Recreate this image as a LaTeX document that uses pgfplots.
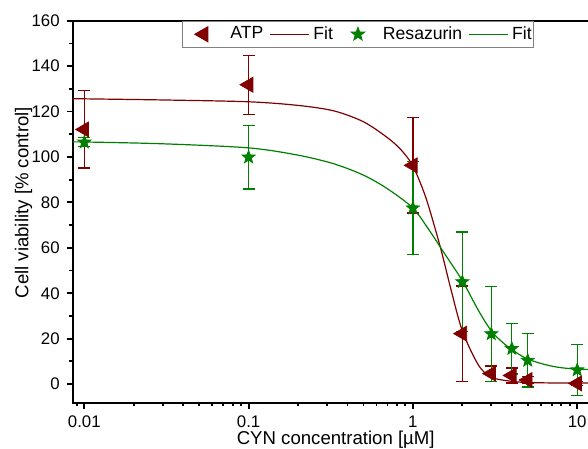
\documentclass[border=0pt]{standalone}
\usepackage{fontspec}
\setmainfont{Liberation Sans}
\usepackage{pgfplots}
\pgfplotsset{compat=1.18}
\definecolor{atp}{RGB}{128,0,0}
\definecolor{res}{RGB}{0,128,0}

% filled five-pointed star
\pgfdeclareplotmark{fstar}{%
  \pgfpathmoveto{\pgfpointpolar{90}{\pgfplotmarksize}}%
  \pgfpathlineto{\pgfpointpolar{126}{0.42\pgfplotmarksize}}%
  \pgfpathlineto{\pgfpointpolar{162}{\pgfplotmarksize}}%
  \pgfpathlineto{\pgfpointpolar{198}{0.42\pgfplotmarksize}}%
  \pgfpathlineto{\pgfpointpolar{234}{\pgfplotmarksize}}%
  \pgfpathlineto{\pgfpointpolar{270}{0.42\pgfplotmarksize}}%
  \pgfpathlineto{\pgfpointpolar{306}{\pgfplotmarksize}}%
  \pgfpathlineto{\pgfpointpolar{342}{0.42\pgfplotmarksize}}%
  \pgfpathlineto{\pgfpointpolar{18}{\pgfplotmarksize}}%
  \pgfpathlineto{\pgfpointpolar{54}{0.42\pgfplotmarksize}}%
  \pgfpathclose
  \pgfusepathqfillstroke
}

% legend images with the spacing of the original
\pgfplotsset{
  fitline/.style={legend image code/.code={%
    \path[draw=none] (0pt,0pt) -- (25pt,0pt);
    \draw[##1] (3.2pt,0pt) -- (23pt,0pt);}},
  firstmark/.style={legend image code/.code={%
    \path[draw=none] (0pt,0pt) -- (23pt,0pt);
    \path[##1, draw=none] plot[only marks] coordinates {(9.5pt,0pt)};}},
  nextmark/.style={legend image code/.code={%
    \path[draw=none] (0pt,0pt) -- (25pt,0pt);
    \path[##1, draw=none] plot[only marks] coordinates {(12.5pt,0pt)};}},
}

\begin{document}
\begin{tikzpicture}
\begin{axis}[
  scale only axis,
  width=276.98pt, height=191pt,
  xmode=log, log ticks with fixed point,
  xmin=0.0085, xmax=20,
  ymin=-8.2, ymax=160,
  ytick={0,20,...,160},
  minor y tick num=1,
  tick align=outside,
  xtick pos=left, ytick pos=left,
  major tick length=3pt, minor tick length=1.6pt,
  tick style={black, line width=0.9pt},
  axis line style={line width=1pt},
  /pgf/number format/assume math mode=true,
  tick label style={font=\fontsize{8.4}{10}\selectfont},
  label style={font=\fontsize{9.3}{11}\selectfont},
  xlabel={CYN concentration [µM]},
  ylabel={Cell viability [\% control]},
  xlabel style={at={(axis description cs:0.4748,0)}, anchor=center, yshift=-18.4pt},
  ylabel style={at={(axis description cs:0,0.5)}, anchor=center, yshift=24.6pt, xshift=4.5pt},
  legend columns=4,
  legend style={at={(0.1973,1)}, anchor=north west, draw=gray, line width=0.5pt,
    font=\fontsize{8.8}{10.5}\selectfont, inner xsep=1pt, inner ysep=2.6pt,
    nodes={inner sep=0pt},
    /tikz/every even column/.append style={column sep=0pt}},
]

% fitted curves
\addplot[atp, line width=0.6pt, smooth, forget plot] coordinates {
  (0.0085,125.7) (0.01,125.6) (0.03,125.1) (0.1,124.3) (0.2,122.7) (0.33,120.3)
  (0.5,115.5) (0.7,108.5) (0.85,103) (1,96) (1.2,82) (1.47,60.2) (1.7,42)
  (2,23.4) (2.5,8.5) (3,3) (4,1.2) (5,0.7) (7,0.5) (10,0.5) (20,0.5)
};
\addplot[res, line width=0.6pt, smooth, forget plot] coordinates {
  (0.0085,106.6) (0.01,106.6) (0.03,105.8) (0.1,104) (0.2,100.8) (0.33,97)
  (0.5,92) (0.7,86) (1,77.5) (1.25,68) (1.54,58) (2,45.5) (2.5,32.5) (3,23.4)
  (3.5,18.5) (4,15.2) (5,11) (7,7.9) (10,6.6) (20,6.2)
};

% ATP
\addplot[atp, only marks, mark=triangle*, mark size=4.3pt,
  mark options={rotate=90, fill=atp, draw=atp}, firstmark,
  error bars/.cd, y dir=both, y explicit,
  error bar style={line width=0.6pt},
  error mark options={rotate=90, mark size=3pt, line width=0.6pt, atp}]
  coordinates {
  (0.01,112.1) +- (0,17)
  (0.1,131.8) +- (0,13)
  (1,96.3) +- (0,21)
  (2,22.2) +- (0,21)
  (3,4.6) +- (0,3.4)
  (4,3.8) +- (0,3.3)
  (5,1.8) +- (0,1.5)
  (10,0.3) +- (0,1)
};
\addlegendimage{atp, line width=0.6pt, fitline}

% Resazurin
\addplot[res, only marks, mark=fstar, mark size=3.4pt,
  mark options={fill=res, draw=res}, nextmark,
  error bars/.cd, y dir=both, y explicit,
  error bar style={line width=0.6pt},
  error mark options={rotate=90, mark size=3pt, line width=0.6pt, res}]
  coordinates {
  (0.01,106.5) +- (0,2)
  (0.1,99.9) +- (0,14)
  (1,77.5) +- (0,20.5)
  (2,45) +- (0,22)
  (3,22.1) +- (0,21)
  (4,15.6) +- (0,11.2)
  (5,10.4) +- (0,11.7)
  (10,6.2) +- (0,11.4)
};
\addlegendimage{res, line width=0.6pt, fitline}

\legend{ATP, Fit, Resazurin, Fit}
\end{axis}
\pgfresetboundingbox
\path (-36.35pt,-23.15pt) rectangle (257.65pt,201.35pt);
\end{tikzpicture}
\end{document}
